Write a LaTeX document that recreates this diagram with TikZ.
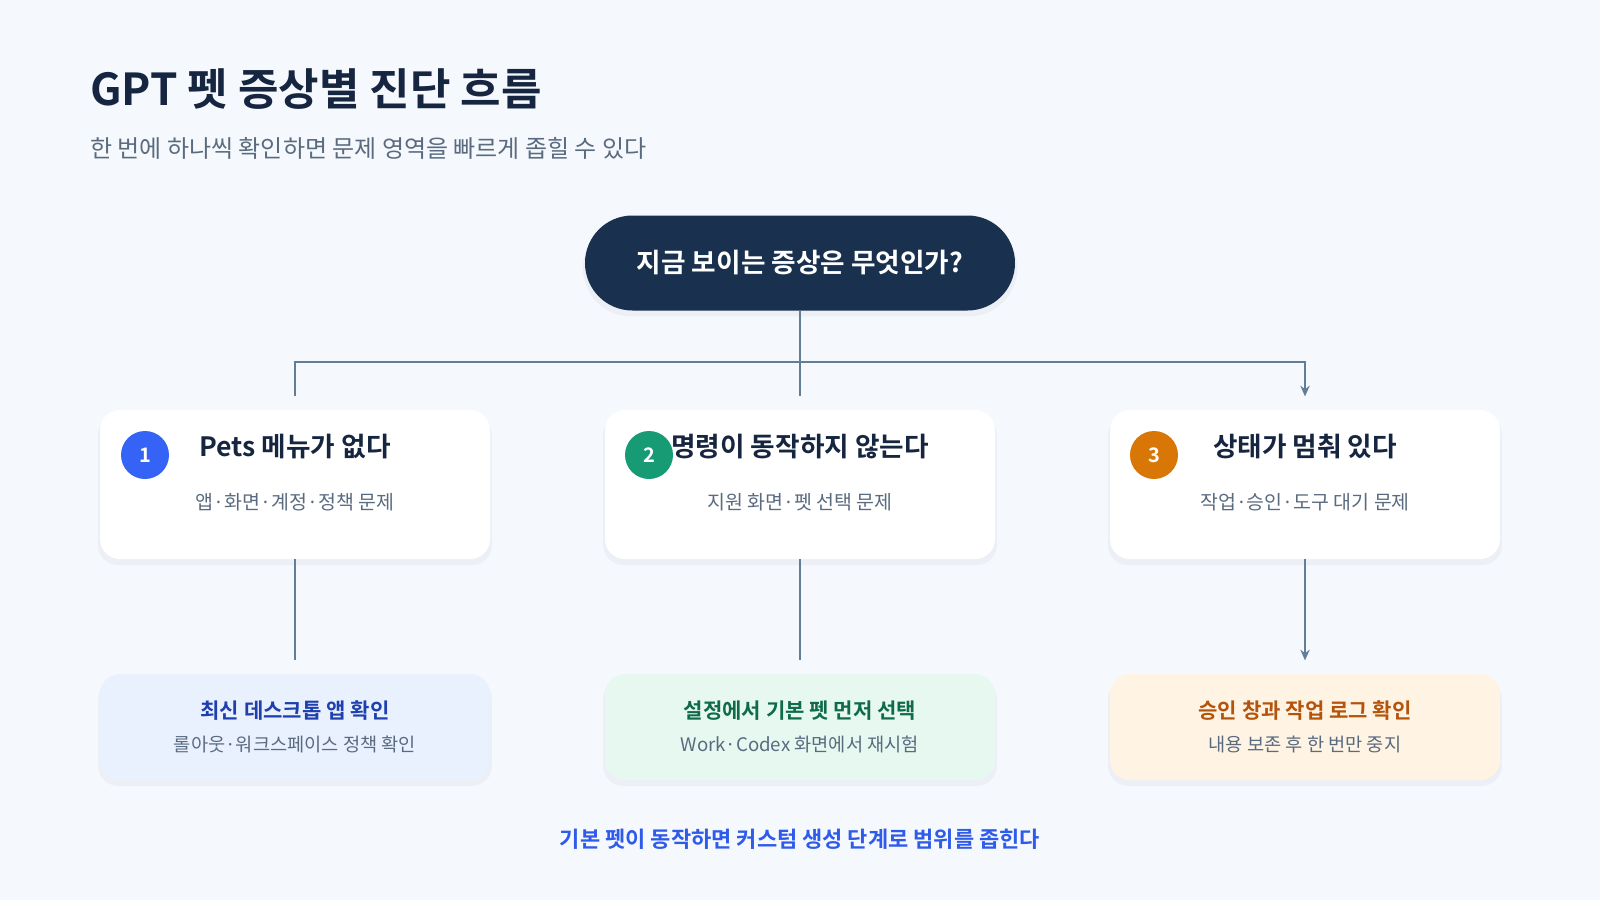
\documentclass[tikz,border=0pt]{standalone}
\usepackage{fontspec}
\setmainfont{Noto Sans CJK KR}[BoldFont={* Bold}]
\usetikzlibrary{arrows.meta,shadows}
\definecolor{pagebg}{HTML}{F5F8FC}
\definecolor{ink}{HTML}{172640}
\definecolor{muted}{HTML}{5A6B80}
\definecolor{navy}{HTML}{19314E}
\definecolor{wire}{HTML}{627D96}
\definecolor{stepblue}{HTML}{3563F5}
\definecolor{stepgreen}{HTML}{169B74}
\definecolor{steporange}{HTML}{D97706}
\definecolor{tintblue}{HTML}{EAF1FE}
\definecolor{tintgreen}{HTML}{E7F8F1}
\definecolor{tintorange}{HTML}{FFF3E3}
\definecolor{textblue}{HTML}{1E40AF}
\definecolor{textgreen}{HTML}{0F6B4A}
\definecolor{textorange}{HTML}{B4530A}
\definecolor{footblue}{HTML}{2F5BEA}
\definecolor{shade}{HTML}{8A9BB8}

\begin{document}
\begin{tikzpicture}[x=0.75pt,y=0.75pt,yscale=-1,xscale=1,
    link/.style={draw=wire, line width=1.9pt},
    soft/.style={general shadow={fill=shade, opacity=0.08, shadow xshift=0pt, shadow yshift=-4pt, shadow scale=1.01}},
    card/.style={draw=none, fill=white, rounded corners=15pt, minimum width=292.5pt, minimum height=111.75pt, soft},
    result/.style={draw=none, rounded corners=15pt, minimum width=292.5pt, minimum height=79.5pt, soft},
    badge/.style={circle, minimum size=36pt, inner sep=0pt, text=white, font=\fontsize{15}{18}\selectfont\bfseries},
    cardtitle/.style={inner sep=0.75pt, text=ink, font=\fontsize{20}{24}\selectfont\bfseries},
    cardnote/.style={inner sep=0.75pt, text=muted, font=\fontsize{14.6}{18}\selectfont},
    resulttitle/.style={inner sep=0.75pt, font=\fontsize{15.8}{19}\selectfont\bfseries},
    resultnote/.style={inner sep=0.75pt, text=muted, font=\fontsize{14}{17}\selectfont}
  ]
  \fill[pagebg] (0,0) rectangle (1600,900);
  \useasboundingbox (0,0) rectangle (1600,900);

  % Heading
  \node[anchor=base west, inner sep=0pt, text=ink, font=\fontsize{33}{40}\selectfont\bfseries] (heading) at (90,105) {GPT 펫 증상별 진단 흐름};
  \node[anchor=base west, inner sep=0pt, text=muted, font=\fontsize{18}{22}\selectfont] (lead) at (90,157) {한 번에 하나씩 확인하면 문제 영역을 빠르게 좁힐 수 있다};

  % Question
  \node[fill=navy, rounded corners=35.6pt, minimum width=322.5pt, minimum height=71.25pt, text=white, font=\fontsize{20}{24}\selectfont\bfseries, soft] (q) at (800,263) {지금 보이는 증상은 무엇인가?};
  \coordinate (bus) at (800,362);

  % Symptom cards
  \node[card] (c1) at (295,484.5) {};
  \node[card] (c2) at (800,484.5) {};
  \node[card] (c3) at (1305,484.5) {};

  \node[badge, fill=stepblue] (n1) at (145,455) {1};
  \node[badge, fill=stepgreen] (n2) at (649,455) {2};
  \node[badge, fill=steporange] (n3) at (1154,455) {3};

  \node[cardtitle] (t1) at (295,447) {Pets 메뉴가 없다};
  \node[cardnote] (s1) at (295,502) {앱·화면·계정·정책 문제};
  \node[cardtitle] (t2) at (800,447) {명령이 동작하지 않는다};
  \node[cardnote] (s2) at (800,502) {지원 화면·펫 선택 문제};
  \node[cardtitle] (t3) at (1305,447) {상태가 멈춰 있다};
  \node[cardnote] (s3) at (1305,502) {작업·승인·도구 대기 문제};

  % Results
  \node[result, fill=tintblue] (r1) at (295,727) {};
  \node[result, fill=tintgreen] (r2) at (800,727) {};
  \node[result, fill=tintorange] (r3) at (1305,727) {};

  \node[resulttitle, text=textblue] (a1) at (295,711) {최신 데스크톱 앱 확인};
  \node[resultnote] (b1) at (295,744) {롤아웃·워크스페이스 정책 확인};
  \node[resulttitle, text=textgreen] (a2) at (800,711) {설정에서 기본 펫 먼저 선택};
  \node[resultnote] (b2) at (800,744) {Work·Codex 화면에서 재시험};
  \node[resulttitle, text=textorange] (a3) at (1305,711) {승인 창과 작업 로그 확인};
  \node[resultnote] (b3) at (1305,744) {내용 보존 후 한 번만 중지};

  % Connectors
  \draw[link] (q.south) -- (bus);
  \draw[link, -{Stealth[length=8pt, width=7pt]}] ([yshift=-10pt]c1.north) |- (bus) -| ([yshift=-10pt]c3.north);
  \draw[link] (bus) -- ([yshift=-10pt]c2.north);
  \draw[link] (c1.south) -- ([yshift=-10pt]r1.north);
  \draw[link] (c2.south) -- ([yshift=-10pt]r2.north);
  \draw[link, -{Stealth[length=8pt, width=7pt]}] (c3.south) -- ([yshift=-10pt]r3.north);

  % Footer
  \node[inner sep=0.75pt, text=footblue, font=\fontsize{16.5}{20}\selectfont\bfseries] (foot) at (800,839) {기본 펫이 동작하면 커스텀 생성 단계로 범위를 좁힌다};
\end{tikzpicture}
\end{document}
